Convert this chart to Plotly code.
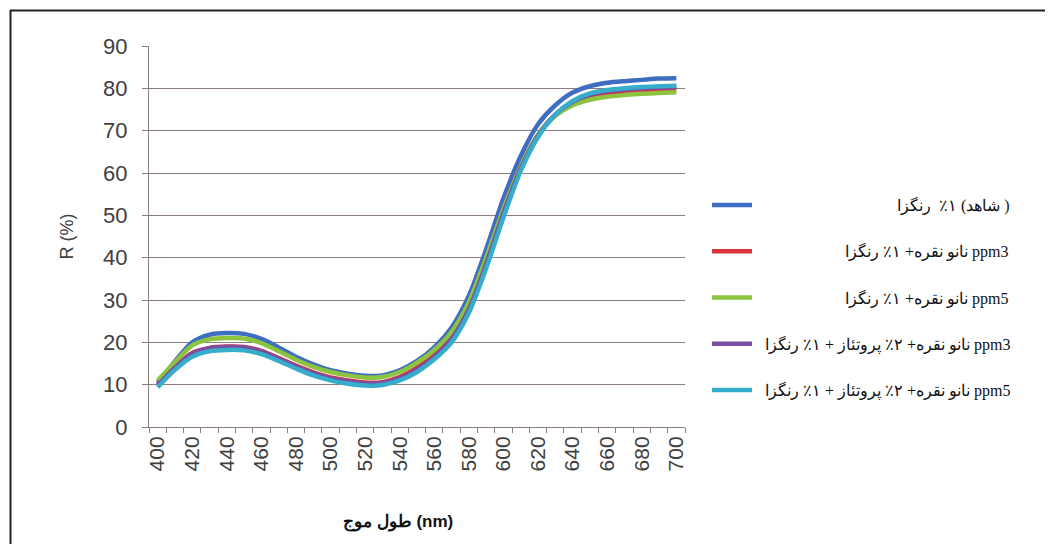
import plotly.graph_objects as go

wavelength = list(range(400, 701, 10))

control = [10.5, 15.5, 20.0, 21.8, 22.2, 22.0, 20.8, 18.8, 16.6, 14.8, 13.4, 12.6, 12.1, 12.2, 13.4, 15.6,
           18.8, 23.5, 31.0, 42.0, 54.0, 64.0, 71.5, 76.0, 79.0, 80.5, 81.3, 81.7, 82.0, 82.3, 82.4]
silver3 = [10.0, 14.2, 17.5, 18.7, 19.0, 18.9, 18.0, 16.3, 14.5, 12.9, 11.7, 11.0, 10.5, 10.6, 11.8, 14.0,
           17.0, 21.5, 28.5, 39.0, 51.0, 61.5, 69.0, 73.8, 76.5, 78.0, 78.8, 79.2, 79.4, 79.6, 79.8]
silver5 = [11.0, 15.3, 19.3, 20.7, 21.0, 20.9, 19.8, 17.9, 15.9, 14.2, 13.0, 12.2, 11.7, 11.8, 13.0, 15.2,
           18.2, 22.5, 29.5, 40.0, 51.5, 61.5, 69.0, 73.5, 76.0, 77.3, 78.0, 78.4, 78.7, 78.9, 79.1]
silver3_protease = [9.8, 14.0, 17.3, 18.6, 18.9, 18.8, 17.8, 16.1, 14.3, 12.7, 11.5, 10.8, 10.3, 10.4, 11.5, 13.6,
                    16.5, 20.8, 27.8, 38.5, 50.5, 61.0, 68.8, 73.8, 76.8, 78.5, 79.3, 79.7, 80.0, 80.2, 80.3]
silver5_protease = [9.4, 13.5, 16.6, 17.9, 18.2, 18.1, 17.2, 15.6, 13.8, 12.2, 11.0, 10.2, 9.8, 9.9, 11.0, 13.0,
                    16.0, 20.0, 27.0, 37.5, 49.5, 60.5, 68.5, 73.8, 77.0, 78.8, 79.6, 80.0, 80.3, 80.5, 80.6]

names = [
    "( شاهد) ۱٪  رنگزا",
    "ppm3 نانو نقره+ ۱٪ رنگزا",
    "ppm5 نانو نقره+ ۱٪ رنگزا",
    "ppm3 نانو نقره+ ۲٪ پروتئاز + ۱٪ رنگزا",
    "ppm5 نانو نقره+ ۲٪ پروتئاز + ۱٪ رنگزا",
]
series = [control, silver3, silver5, silver3_protease, silver5_protease]
colors = ["#3E6DC2", "#D9343C", "#8CC43F", "#7A4EA3", "#36AECB"]

y_ticks = list(range(0, 91, 10))
x_ticks = list(range(400, 701, 20))

# the page body adds an 8 px offset; the figure is sized so it fills the window exactly
OFF = 8
FW, FH = 1053 - OFF, 544 - OFF
# plot area geometry in window pixels
L, R, T, B = 149, 685, 46, 427
W, H = R - L, B - T

RLE, PDF, NBSP = "\u202b", "\u202c", "\u00a0"
pads = [35, 22, 22, 2, 2]  # non-breaking spaces so that text ends flush right, as in the original

fig = go.Figure()
for i, (nm, vals, col) in enumerate(zip(names, series, colors)):
    fig.add_trace(go.Scatter(
        x=wavelength, y=vals, mode="lines", name=NBSP * pads[i] + RLE + nm + PDF,
        line=dict(color=col, width=4.5, shape="spline", smoothing=0.8),
        legendgroup=str(i),
    ))

grid_col = "#8C7E7E"
fig.update_layout(
    width=FW, height=FH, autosize=False,
    margin=dict(l=L - OFF, r=1053 - R, t=T - OFF, b=544 - B),
    paper_bgcolor="white", plot_bgcolor="white",
    font=dict(family="Liberation Sans, Arial, sans-serif", color="#404040"),
    showlegend=True,
    legend=dict(
        x=(707 - L) / W, y=(B - 297.5) / H, xanchor="left", yanchor="middle",
        font=dict(family="Liberation Serif, Times New Roman, serif", size=16, color="#111111"),
        traceorder="grouped", tracegroupgap=22.5, itemwidth=40,
        bgcolor="rgba(0,0,0,0)",
    ),
    xaxis=dict(
        range=[395, 705], tickmode="array", tickvals=x_ticks, ticktext=[str(v) for v in x_ticks],
        tickangle=-90, ticks="", showgrid=False, zeroline=False, automargin=False,
        showline=True, linecolor=grid_col, linewidth=1,
        tickfont=dict(size=21, color="#404040"),
        minor=dict(tick0=395, dtick=10, ticks="outside", ticklen=5, tickcolor=grid_col, showgrid=False),
    ),
    yaxis=dict(
        range=[0, 90], tickvals=y_ticks, ticks="outside", ticklen=6, tickcolor=grid_col,
        showgrid=True, gridcolor=grid_col, gridwidth=1, zeroline=False, automargin=False,
        showline=True, linecolor=grid_col, linewidth=1,
        tickfont=dict(size=22, color="#404040"), ticklabelstandoff=10,
        title=dict(text="R (%)", font=dict(size=18, color="#404040"), standoff=24),
    ),
)

# x-axis title (placed as in the original, slightly left of centre)
fig.add_annotation(
    text="<b>طول موج (nm)</b>", xref="paper", yref="paper",
    x=(398 - L) / W, y=(B - 522) / H, xanchor="center", yanchor="middle", showarrow=False,
    font=dict(size=17, color="#111111", family="Liberation Sans, Arial, sans-serif"),
)

# thin frame visible on top and left edges of the original picture
fig.add_shape(type="line", xref="paper", yref="paper", x0=(10 - L) / W, x1=(1060 - L) / W,
              y0=(B - 10.5) / H, y1=(B - 10.5) / H, line=dict(color="#222222", width=2))
fig.add_shape(type="line", xref="paper", yref="paper", x0=(10.5 - L) / W, x1=(10.5 - L) / W,
              y0=(B - 10) / H, y1=(B - 560) / H, line=dict(color="#222222", width=2))

fig.write_html("out.html")
